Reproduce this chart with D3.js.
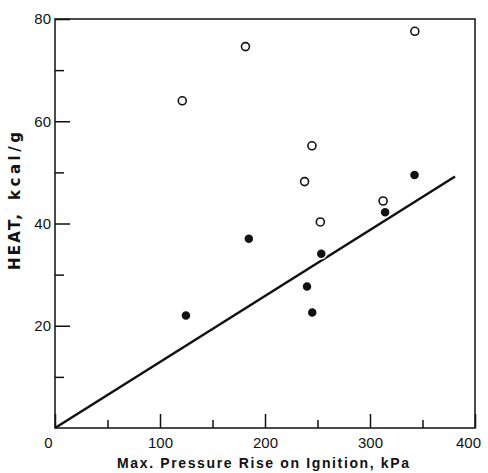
<!DOCTYPE html>
<html>
<head>
<meta charset="utf-8">
<script src="https://cdn.jsdelivr.net/npm/d3@7"></script>
<style>
  body { margin: 0; background: #fff; }
  svg { display: block; }
</style>
</head>
<body>
<svg id="chart"></svg>
<script>
/* data */
var openX   = [121.2, 181.4, 244.7, 237.7, 252.7, 312.5, 342.7];
var openY   = [64.0, 74.6, 55.2, 48.2, 40.3, 44.4, 77.6];
var filledX = [124.7, 184.6, 240, 245, 253.6, 314.4, 342.4];
var filledY = [22.0, 37.0, 27.7, 22.6, 34.1, 42.2, 49.5];
var fitX = [0, 381];
var fitY = [0, 49.2];
var xTicks = [0, 100, 200, 300, 400];
var xMinor = [50, 150, 250, 350];
var yTicks = [20, 40, 60, 80];
var yMinor = [10, 30, 50, 70];

let width = 488, height = 473;
let margin = { top: 19, right: 13, bottom: 45, left: 55 };
let w = width - margin.left - margin.right;
let h = height - margin.top - margin.bottom;
let font = "'Liberation Sans', Arial, sans-serif";
let titleFont = "'DejaVu Sans', sans-serif";

let svg = d3.select("#chart").attr("width", width).attr("height", height);
let g = svg.append("g").attr("transform", `translate(${margin.left}, ${margin.top})`);

let xScale = d3.scaleLinear().domain([0, 400]).range([0, w]);
let yScale = d3.scaleLinear().domain([0, 80]).range([h, 0]);

/* frame */
g.append("rect")
 .attr("x", 0).attr("y", 0)
 .attr("width", w).attr("height", h)
 .attr("fill", "none")
 .attr("stroke", "#111")
 .attr("stroke-width", 1.5);

/* y axis: inward ticks */
let yMinAxis = g.append("g")
  .call(d3.axisLeft(yScale).tickValues(yMinor).tickSize(-9).tickFormat(""));
let yMajAxis = g.append("g")
  .call(d3.axisLeft(yScale).tickValues(yTicks).tickSizeInner(-15).tickSizeOuter(0).tickPadding(5));

/* x axis: inward ticks */
let xMinAxis = g.append("g")
  .attr("transform", `translate(0, ${h})`)
  .call(d3.axisBottom(xScale).tickValues(xMinor).tickSize(-8).tickFormat(""));
let xMajAxis = g.append("g")
  .attr("transform", `translate(0, ${h})`)
  .call(d3.axisBottom(xScale).tickValues(xTicks).tickSizeInner(-14).tickSizeOuter(0).tickPadding(6));

[yMinAxis, yMajAxis, xMinAxis, xMajAxis].forEach(function(a){
    a.select(".domain").remove();
    a.selectAll("line").attr("stroke", "#111").attr("stroke-width", 1.5);
    a.selectAll("text")
     .style("font-family", font)
     .style("font-size", "15px")
     .attr("fill", "#111");
});
yMajAxis.selectAll("text").attr("dx", 1);
xMajAxis.selectAll("text").attr("dy", "0.95em");
/* end labels sit a little left of their ticks */
xMajAxis.selectAll(".tick text")
  .attr("dx", d => (d === 0 || d === 400) ? -7 : 0);

/* fit line */
let fit = fitX.map((x, i) => [x, fitY[i]]);
g.append("path")
 .datum(fit)
 .attr("d", d3.line().x(d => xScale(d[0])).y(d => yScale(d[1])))
 .attr("stroke", "#111")
 .attr("stroke-width", 2.5)
 .attr("fill", "none");

/* filled points */
g.selectAll("circle.filled")
 .data(filledX.map((x, i) => [x, filledY[i]]))
 .join("circle")
 .attr("class", "filled")
 .attr("cx", d => xScale(d[0]))
 .attr("cy", d => yScale(d[1]))
 .attr("r", 5)
 .attr("fill", "#111")
 .attr("stroke", "#fff")
 .attr("stroke-width", 1.5);

/* open points */
g.selectAll("circle.open")
 .data(openX.map((x, i) => [x, openY[i]]))
 .join("circle")
 .attr("class", "open")
 .attr("cx", d => xScale(d[0]))
 .attr("cy", d => yScale(d[1]))
 .attr("r", 4)
 .attr("fill", "#fff")
 .attr("stroke", "#111")
 .attr("stroke-width", 1.6);

/* axis titles */
svg.append("text")
   .attr("x", margin.left + xScale(200) - 2)
   .attr("y", 468)
   .attr("text-anchor", "middle")
   .attr("textLength", 292)
   .style("font-family", font)
   .style("font-weight", "bold")
   .style("font-size", "14px")
   .attr("fill", "#111")
   .text("Max. Pressure Rise on Ignition, kPa");

let yTitle = svg.append("g").attr("transform", "translate(20, 0) rotate(-90)");
yTitle.append("text")
   .attr("x", -270)
   .attr("textLength", 56)
   .style("font-family", titleFont)
   .style("font-weight", "bold")
   .style("font-size", "15px")
   .attr("fill", "#111")
   .text("HEAT,");
yTitle.append("text")
   .attr("x", -200)
   .attr("textLength", 68)
   .style("font-family", titleFont)
   .style("font-weight", "bold")
   .style("font-size", "15px")
   .attr("fill", "#111")
   .text("kcal/g");
</script>
</body>
</html>
